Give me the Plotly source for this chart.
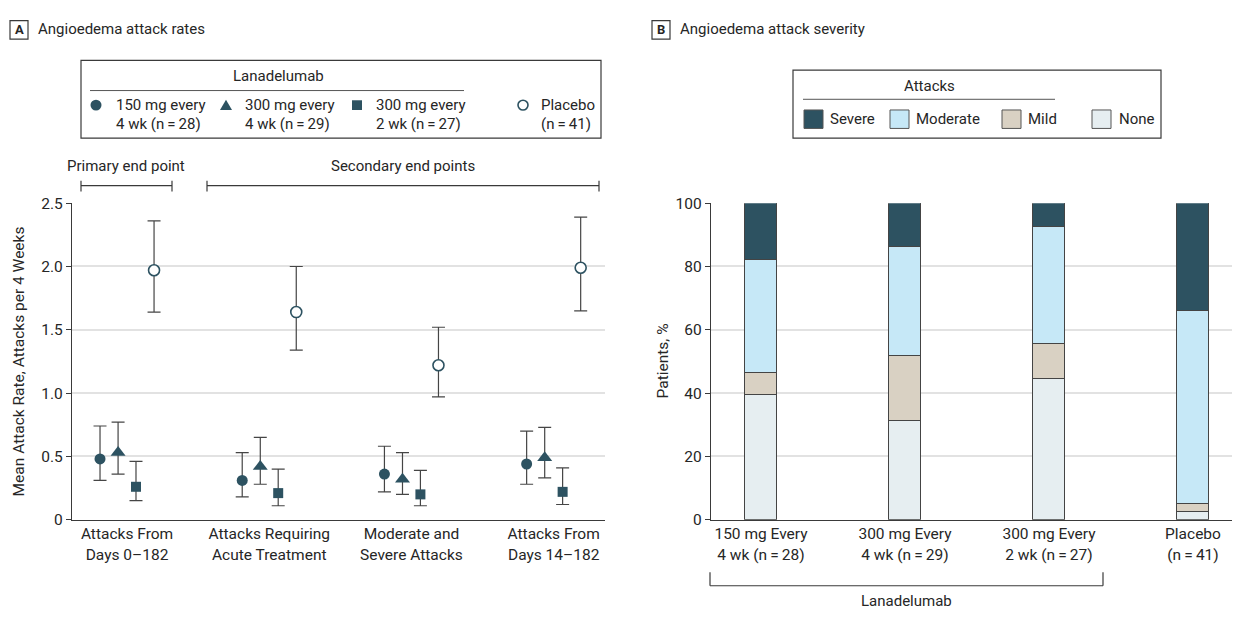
import plotly.graph_objects as go

W, H = 1245, 619

# ---------------- data ----------------
endpoint_labels = ["Attacks From<br>Days 0–182", "Attacks Requiring<br>Acute Treatment",
                   "Moderate and<br>Severe Attacks", "Attacks From<br>Days 14–182"]

rate_150_q4w = [0.48, 0.31, 0.36, 0.44]
lo_150_q4w = [0.31, 0.18, 0.22, 0.28]
hi_150_q4w = [0.74, 0.53, 0.58, 0.70]

rate_300_q4w = [0.53, 0.42, 0.32, 0.49]
lo_300_q4w = [0.36, 0.28, 0.20, 0.33]
hi_300_q4w = [0.77, 0.65, 0.53, 0.73]

rate_300_q2w = [0.26, 0.21, 0.20, 0.22]
lo_300_q2w = [0.15, 0.11, 0.11, 0.12]
hi_300_q2w = [0.46, 0.40, 0.39, 0.41]

rate_placebo = [1.97, 1.64, 1.22, 1.99]
lo_placebo = [1.64, 1.34, 0.97, 1.65]
hi_placebo = [2.36, 2.00, 1.52, 2.39]

rate_ticks = [0, 0.5, 1.0, 1.5, 2.0, 2.5]
rate_ticktext = ["0", "0.5", "1.0", "1.5", "2.0", "2.5"]

group_labels = ["150 mg Every<br>4 wk (n\u2009=\u200928)", "300 mg Every<br>4 wk (n\u2009=\u200929)",
                "300 mg Every<br>2 wk (n\u2009=\u200927)", "Placebo<br>(n\u2009=\u200941)"]
none_pct = [39.3, 31.0, 44.4, 2.4]
mild_pct = [7.1, 20.7, 11.1, 2.4]
moderate_pct = [35.7, 34.5, 37.0, 61.0]
severe_pct = [17.9, 13.8, 7.4, 34.1]
pct_ticks = [0, 20, 40, 60, 80, 100]

# ---------------- style ----------------
FONT = "Roboto, Arial, sans-serif"
TXT = "#262626"
TEAL = "#2d5261"
C_SEV, C_MOD, C_MILD, C_NONE = "#2d5261", "#c6e8f7", "#d9d1c3", "#e6eef1"
GRID = "#e2e2e2"
AX = "#3a3a3a"
ERR = "#454545"
FS = 15
FS_TICK = 15.5


def px(x):
    return x / W


def py(y):
    return 1 - y / H


fig = go.Figure()

# Panel A: dot plot with error bars
offsets = [-0.19, -0.063, 0.063, 0.19]
series = [
    (rate_150_q4w, lo_150_q4w, hi_150_q4w, "circle", 11, TEAL, 0),
    (rate_300_q4w, lo_300_q4w, hi_300_q4w, "triangle-up", 13, TEAL, 0),
    (rate_300_q2w, lo_300_q2w, hi_300_q2w, "square", 10, TEAL, 0),
    (rate_placebo, lo_placebo, hi_placebo, "circle", 11, "white", 1.6),
]
for k, (v, lo, hi, sym, size, fill, lw) in enumerate(series):
    xs = [i + offsets[k] for i in range(len(v))]
    fig.add_trace(go.Scatter(
        x=xs, y=v, mode="markers", xaxis="x", yaxis="y", showlegend=False,
        marker=dict(symbol=sym, size=size, color=fill, line=dict(color=TEAL, width=lw)),
        error_y=dict(type="data", symmetric=False,
                     array=[h - a for h, a in zip(hi, v)],
                     arrayminus=[a - l for a, l in zip(v, lo)],
                     color=ERR, thickness=1.2, width=6.5),
    ))

# Panel B: stacked bars
for vals, col in [(none_pct, C_NONE), (mild_pct, C_MILD), (moderate_pct, C_MOD), (severe_pct, C_SEV)]:
    fig.add_trace(go.Bar(
        x=list(range(len(vals))), y=vals, xaxis="x2", yaxis="y2", showlegend=False,
        width=0.222, marker=dict(color=col, line=dict(color="#444444", width=1)),
    ))

ydom = [py(526), py(200)]
axis_common = dict(zeroline=False, showline=True, linecolor=AX, linewidth=1.3,
                   tickfont=dict(family=FONT, size=FS_TICK, color=TXT))
fig.update_layout(
    width=W, height=H, margin=dict(l=0, r=0, t=0, b=0),
    paper_bgcolor="white", plot_bgcolor="white", barmode="stack", bargap=0,
    font=dict(family=FONT, size=FS, color=TXT),
    xaxis=dict(domain=[px(72), px(605)], range=[-0.387, 3.361], tickvals=[0, 1, 2, 3],
               ticktext=endpoint_labels, ticks="", showgrid=False, **axis_common),
    yaxis=dict(domain=ydom, range=[0, 2.5], tickvals=rate_ticks, ticktext=rate_ticktext,
               ticks="outside", ticklen=5, tickcolor=AX, showgrid=True, gridcolor=GRID, gridwidth=1.5,
               **axis_common),
    xaxis2=dict(domain=[px(711), px(1232)], range=[-0.347, 3.271], tickvals=[0, 1, 2, 3],
                ticktext=group_labels, ticks="", anchor="y2", showgrid=False, **axis_common),
    yaxis2=dict(domain=ydom, range=[0, 100], tickvals=pct_ticks, anchor="x2",
                ticks="outside", ticklen=5, tickcolor=AX, showgrid=True, gridcolor=GRID, gridwidth=1.5,
                **axis_common),
)

shapes = []
ann = []


def line(x0, y0, x1, y1, color=AX, w=1.2):
    shapes.append(dict(type="line", xref="paper", yref="paper", x0=px(x0), y0=py(y0),
                       x1=px(x1), y1=py(y1), line=dict(color=color, width=w)))


def rect(x0, y0, x1, y1, fill="rgba(0,0,0,0)", color=AX, w=1.2):
    shapes.append(dict(type="rect", xref="paper", yref="paper", x0=px(x0), y0=py(y1),
                       x1=px(x1), y1=py(y0), fillcolor=fill, line=dict(color=color, width=w)))


def text(x, y, s, anchor="left", size=FS, bold=False):
    if bold:
        s = "<b>" + s + "</b>"
    ann.append(dict(xref="paper", yref="paper", x=px(x), y=py(y), text=s, showarrow=False,
                    xanchor=anchor, yanchor="middle", font=dict(family=FONT, size=size, color=TXT)))


# panel labels
rect(10, 12, 28, 31, w=1.2)
text(19, 21.5, "A", anchor="center", size=13, bold=True)
text(36, 21, "Angioedema attack rates")
rect(652, 12, 670, 31, w=1.2)
text(661, 21.5, "B", anchor="center", size=13, bold=True)
text(678, 21, "Angioedema attack severity")

# legend A
rect(81, 53, 601, 133, w=1.2)
text(278, 69, "Lanadelumab", anchor="center")
line(90, 84, 464, 84, color="#555555", w=1)
mk_y = 99
r = 5.5
shapes.append(dict(type="circle", xref="paper", yref="paper", x0=px(96 - r), x1=px(96 + r),
                   y0=py(mk_y + r), y1=py(mk_y - r), fillcolor=TEAL, line=dict(color=TEAL, width=0)))
shapes.append(dict(type="path", xref="paper", yref="paper",
                   path=f"M {px(220)},{py(104)} L {px(232)},{py(104)} L {px(226)},{py(93.5)} Z",
                   fillcolor=TEAL, line=dict(color=TEAL, width=0)))
shapes.append(dict(type="rect", xref="paper", yref="paper", x0=px(352), x1=px(362),
                   y0=py(104), y1=py(94), fillcolor=TEAL, line=dict(color=TEAL, width=0)))
shapes.append(dict(type="circle", xref="paper", yref="paper", x0=px(523 - 5), x1=px(523 + 5),
                   y0=py(mk_y + 5), y1=py(mk_y - 5), fillcolor="white", line=dict(color=TEAL, width=1.6)))
for x0, l1, l2 in [(114, "150 mg every", "4 wk (n\u2009=\u200928)"),
                   (243, "300 mg every", "4 wk (n\u2009=\u200929)"),
                   (374, "300 mg every", "2 wk (n\u2009=\u200927)"),
                   (539, "Placebo", "(n\u2009=\u200941)")]:
    text(x0, 99, l1)
    text(x0, 118, l2)

# end point brackets
text(126, 162, "Primary end point", anchor="center")
line(81, 182, 172, 182)
line(81, 177, 81, 188)
line(172, 177, 172, 188)
text(403, 162, "Secondary end points", anchor="center")
line(207, 182, 599, 182)
line(207, 177, 207, 188)
line(599, 177, 599, 188)

# axis titles
ann.append(dict(xref="paper", yref="paper", x=px(19), y=py(363), text="Mean Attack Rate, Attacks per 4 Weeks",
                textangle=-90, showarrow=False, xanchor="center", yanchor="middle",
                font=dict(family=FONT, size=15.5, color=TXT)))
ann.append(dict(xref="paper", yref="paper", x=px(663), y=py(363), text="Patients, %",
                textangle=-90, showarrow=False, xanchor="center", yanchor="middle",
                font=dict(family=FONT, size=15.5, color=TXT)))

# legend B
rect(793, 63, 1161, 133, w=1.2)
text(929, 79, "Attacks", anchor="center")
line(803, 93, 1055, 93, color="#555555", w=1)
for (x0, x1, col), (tx, lab) in zip(
        [(804, 823, C_SEV), (890, 909, C_MOD), (1002, 1021, C_MILD), (1092, 1111, C_NONE)],
        [(828, "Severe"), (914, "Moderate"), (1026, "Mild"), (1117, "None")]):
    rect(x0, 104, x1, 123, fill=col, color="#555555", w=1)
    text(tx, 113, lab)

# Lanadelumab bracket
line(710, 594, 1103, 594)
line(710, 580, 710, 594)
line(1103, 580, 1103, 594)
text(906, 610, "Lanadelumab", anchor="center")

fig.update_layout(shapes=shapes, annotations=ann)
fig.write_html(
    "out.html",
    config={"displayModeBar": False},
    post_script=(
        "document.documentElement.style.margin='0px';"
        "document.body.style.margin='0px';"
        "document.body.style.overflow='hidden';"
    ),
)
